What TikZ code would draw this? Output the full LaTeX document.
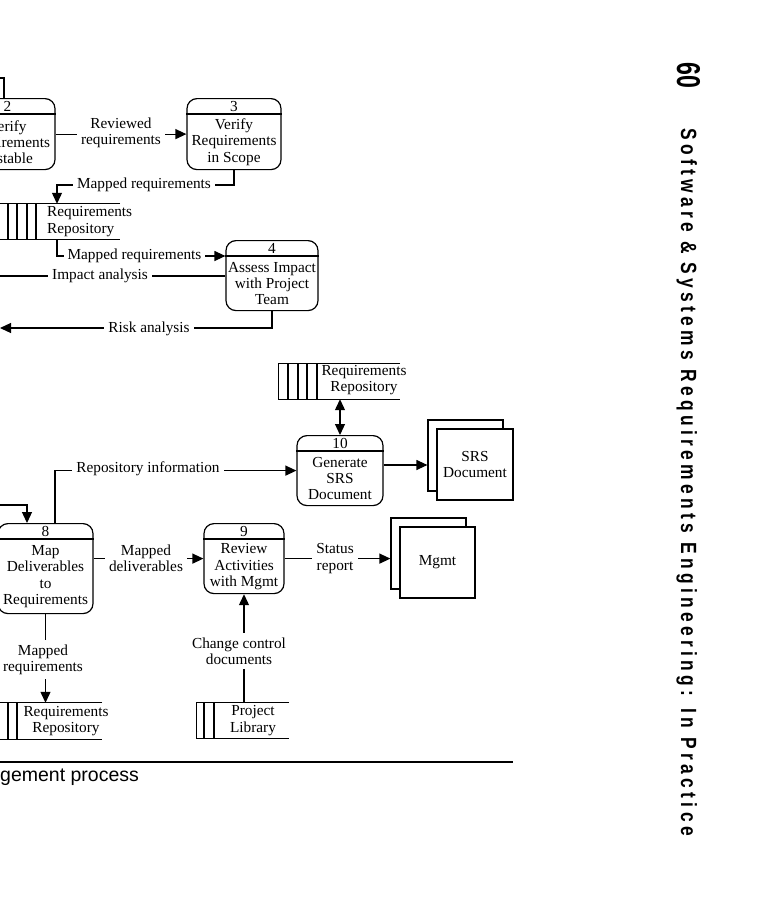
\documentclass[tikz,border=0pt]{standalone}
\usepackage{fontspec}
\usepackage{graphicx}
\setmainfont{Liberation Serif}
\newfontfamily\capfont{Liberation Sans}
\newfontfamily\sidefont{Liberation Sans}
\newfontfamily\sidefontls[LetterSpace=25]{Liberation Sans}
\usetikzlibrary{arrows.meta,calc}
\newcommand\dfdfont{\fontsize{15.3}{16.3}\selectfont}
\tikzset{
  base/.style={line width=1.2pt},
  arr/.style={base, -{Triangle[length=11pt,width=10pt]}},
  darr/.style={base, {Triangle[length=11pt,width=10pt]}-{Triangle[length=11pt,width=10pt]}},
  proc/.style={draw, base, rounded corners=10pt, inner sep=0pt},
  txt/.style={inner sep=0pt, font=\dfdfont, align=center},
  flow/.style={txt, fill=white, inner sep=4pt},
  sq/.style={draw, base, fill=white, inner sep=0pt, font=\dfdfont, align=center},
  storeb/.style={inner sep=0pt},
}
% name, cx, top, width, height, number, text
\newcommand\procnode[7]{%
  \node[proc, minimum width=#4pt, minimum height=#5pt, anchor=north] (#1) at (#2,#3) {};
  \draw[base] ([yshift=-16pt]#1.north west) -- ([yshift=-16pt]#1.north east);
  \node[txt] (#1-n) at ([yshift=-8.5pt]#1.north) {#6};
  \node[txt] (#1-t) at ($([yshift=-16pt]#1.north)!0.5!(#1.south)$) {#7};
}
\begin{document}
\begin{tikzpicture}[x=1pt,y=-1pt]
\useasboundingbox (0,0) rectangle (766,900);
\clip (0,0) rectangle (766,900);

% processes
\procnode{p2}{7.5}{98}{95}{71}{2}{Verify\\Requirements\\Testable}
\procnode{p3}{234}{98}{94}{71}{3}{Verify\\Requirements\\in Scope}
\procnode{p4}{272}{240}{92}{70}{4}{Assess Impact\\with Project\\Team}
\procnode{p10}{340}{435}{86}{70}{10}{Generate\\SRS\\Document}
\procnode{p8}{45.5}{523}{95}{90}{8}{Map\\Deliverables\\to\\Requirements}
\procnode{p9}{244}{523}{80}{70}{9}{Review\\Activities\\with Mgmt}

% data stores
\node[storeb, minimum width=140pt, minimum height=35pt] (sA) at (50,221.5) {};
\draw[base] (sA.north east) -- (sA.north west) -- (sA.south west) -- (sA.south east);
\foreach \x in {8,17,27,36} \draw[base] (sA.north -| \x,0) -- (sA.south -| \x,0);
\node[txt, anchor=west, align=left] (sAt) at (47,221.5) {Requirements\\Repository};

\node[storeb, minimum width=121pt, minimum height=35pt] (sB) at (339.5,381.5) {};
\draw[base] (sB.north east) -- (sB.north west) -- (sB.south west) -- (sB.south east);
\foreach \x in {288,298,307,317} \draw[base] (sB.north -| \x,0) -- (sB.south -| \x,0);
\node[txt] (sBt) at (364,380) {Requirements\\Repository};

\node[storeb, minimum width=122pt, minimum height=36pt] (sC) at (41,721) {};
\draw[base] (sC.north east) -- (sC.north west) -- (sC.south west) -- (sC.south east);
\foreach \x in {8,17} \draw[base] (sC.north -| \x,0) -- (sC.south -| \x,0);
\node[txt] (sCt) at (66,721) {Requirements\\Repository};

\node[storeb, minimum width=92pt, minimum height=35pt] (sD) at (243,720.5) {};
\draw[base] (sD.north east) -- (sD.north west) -- (sD.south west) -- (sD.south east);
\foreach \x in {204,214} \draw[base] (sD.north -| \x,0) -- (sD.south -| \x,0);
\node[txt] (sDt) at (253,720.5) {Project\\Library};

% external entities
\node[sq, minimum width=75pt, minimum height=71pt] (srsB) at (465.5,455.5) {};
\node[sq, minimum width=76pt, minimum height=71pt] (srs) at (475,464.5) {SRS\\Document};
\node[sq, minimum width=75pt, minimum height=71pt] (mgB) at (428.5,553.5) {};
\node[sq, minimum width=75pt, minimum height=71pt] (mg) at (437.5,562.5) {Mgmt};

% free ends
\coordinate (inA) at (-5,78);
\coordinate (impEnd) at (-5,276);
\coordinate (riskEnd) at (0,328);
\coordinate (in8) at (-5,505);

% flows
\draw[base] (inA) -| (p2.north -| 4,0);

\draw[arr] (p2.east) -- (p3.west);
\node[flow] (f1) at (121,133) {Reviewed\\requirements};

\draw[arr] (p3.south) |- (57,185) -- (sA.north -| 57,0);
\node[flow] (f2) at (144,185) {Mapped requirements};

\draw[arr] (sA.south -| 57,0) |- (p4.west |- 0,256);
\node[flow] (f3) at (134.5,256) {Mapped requirements};

\draw[base] (p4.west |- 0,276) -- (impEnd);
\node[flow] (f4) at (100,276) {Impact analysis};

\draw[arr] (p4.south) |- (riskEnd);
\node[flow] (f5) at (149,329) {Risk analysis};

\draw[darr] (p10.north) -- (p10.north |- sB.south);
\draw[arr] (p10.east |- 0,465) -- (srsB.west |- 0,465);

\draw[arr] (p8.north -| 55,0) |- (p10.west);
\node[flow] (f6) at (148,469) {Repository information};

\draw[arr] (in8) -| (p8.north -| 27,0);

\draw[arr] (p8.east |- p9.west) -- (p9.west);
\node[flow] (f7) at (146,558.5) {Mapped\\deliverables};

\draw[arr] (p9.east) -- (mgB.west |- p9.east);
\node[flow] (f8) at (335,558.5) {Status\\report};

\draw[arr] (p8.south) -- (p8.south |- sC.north);
\node[flow] (f9) at (43,659.5) {Mapped\\requirements};

\draw[arr] (sD.north -| p9.south) -- (p9.south);
\node[flow] (f10) at (239,651) {Change control\\documents};

% rule and caption
\draw[line width=2.2pt] (0,762) -- (513,762);
\node[anchor=base west, inner sep=0pt, font={\fontsize{19.5}{22}\capfont}] (cap) at (0,781) {gement process};

% running head
\node[rotate=-90, anchor=base west, inner sep=0pt, font={\fontsize{33}{33}\sidefont\bfseries}] (pg) at (677,62) {\scalebox{0.7}[1]{60}};
\node[rotate=-90, anchor=base west, inner sep=0pt, font={\fontsize{22}{22}\sidefontls\bfseries}] (ttl) at (681,128) {\scalebox{0.79}[1]{Software \& Systems Requirements Engineering: In Practice}};
\end{tikzpicture}
\end{document}
